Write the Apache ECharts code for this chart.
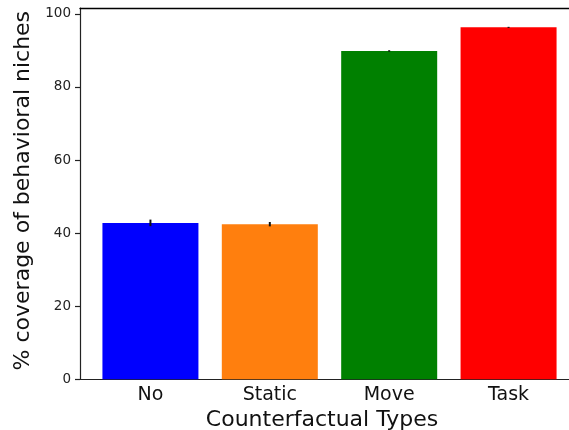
<!DOCTYPE html>
<html>
<head>
<meta charset="utf-8">
<script src="https://cdn.jsdelivr.net/npm/echarts@6/dist/echarts.min.js"></script>
<style>html,body{margin:0;padding:0;background:#fff}#c{width:569px;height:430px}</style>
</head>
<body>
<div id="c"></div>
<script>
var categories = ['No', 'Static', 'Move', 'Task'];
var values = [42.8, 42.45, 89.85, 96.3];
var errors = [0.9, 0.6, 0.2, 0.15];
var barColors = ['#0000ff', '#ff7f0e', '#008000', '#ff0000'];
var yTicks = [0, 20, 40, 60, 80, 100];

var chart = echarts.init(document.getElementById('c'), null, {renderer: 'canvas'});
var font = 'DejaVu Sans';
var barData = values.map(function (v, i) {
  return {value: [i, v], itemStyle: {color: barColors[i]}};
});
var errData = values.map(function (v, i) { return [i, v - errors[i], v + errors[i]]; });

chart.setOption({
  animation: false,
  backgroundColor: '#fff',
  grid: {left: 80, top: 8, width: 499, height: 371.3, containLabel: false, outerBoundsMode: 'none'},
  xAxis: [{
    type: 'value', min: -0.59, max: 3.59,
    splitLine: {show: false},
    axisLine: {show: true, onZero: false, lineStyle: {color: '#222', width: 1.2}},
    axisTick: {show: false},
    axisLabel: {
      customValues: [0, 1, 2, 3], margin: 6,
      fontFamily: font, fontSize: 19, color: '#111',
      formatter: function (v) { return categories[Math.round(v)]; }
    },
    name: 'Counterfactual Types', nameLocation: 'middle', nameGap: 25,
    nameTextStyle: {fontFamily: font, fontSize: 22, color: '#111', padding: [0, 15, 0, 0]}
  }, {
    type: 'value', position: 'top', min: -0.59, max: 3.59,
    splitLine: {show: false},
    axisLine: {show: true, onZero: false, lineStyle: {color: '#000', width: 1.4}},
    axisTick: {show: false}, axisLabel: {show: false}
  }],
  yAxis: {
    type: 'value', min: 0, max: 101.6,
    splitLine: {show: false},
    axisLine: {show: true, onZero: false, lineStyle: {color: '#222', width: 1.2}},
    axisTick: {show: true, customValues: yTicks, length: 5, lineStyle: {color: '#222', width: 1.2}},
    axisLabel: {customValues: yTicks, margin: 9, fontFamily: font, fontSize: 13.5, color: '#222'},
    name: '% coverage of behavioral niches', nameLocation: 'middle', nameGap: 46,
    nameTextStyle: {fontFamily: font, fontSize: 22, color: '#111', padding: [0, 0, 0, 6]}
  },
  series: [{
    type: 'bar', data: barData, barWidth: 96,
    itemStyle: {borderWidth: 0}
  }, {
    type: 'custom', data: errData,
    renderItem: function (params, api) {
      var x = api.value(0);
      var p1 = api.coord([x, api.value(1)]);
      var p2 = api.coord([x, api.value(2)]);
      return {type: 'line', shape: {x1: p1[0], y1: p1[1], x2: p2[0], y2: p2[1]},
        style: {stroke: '#111', lineWidth: 2}};
    },
    z: 5
  }]
});
</script>
</body>
</html>
